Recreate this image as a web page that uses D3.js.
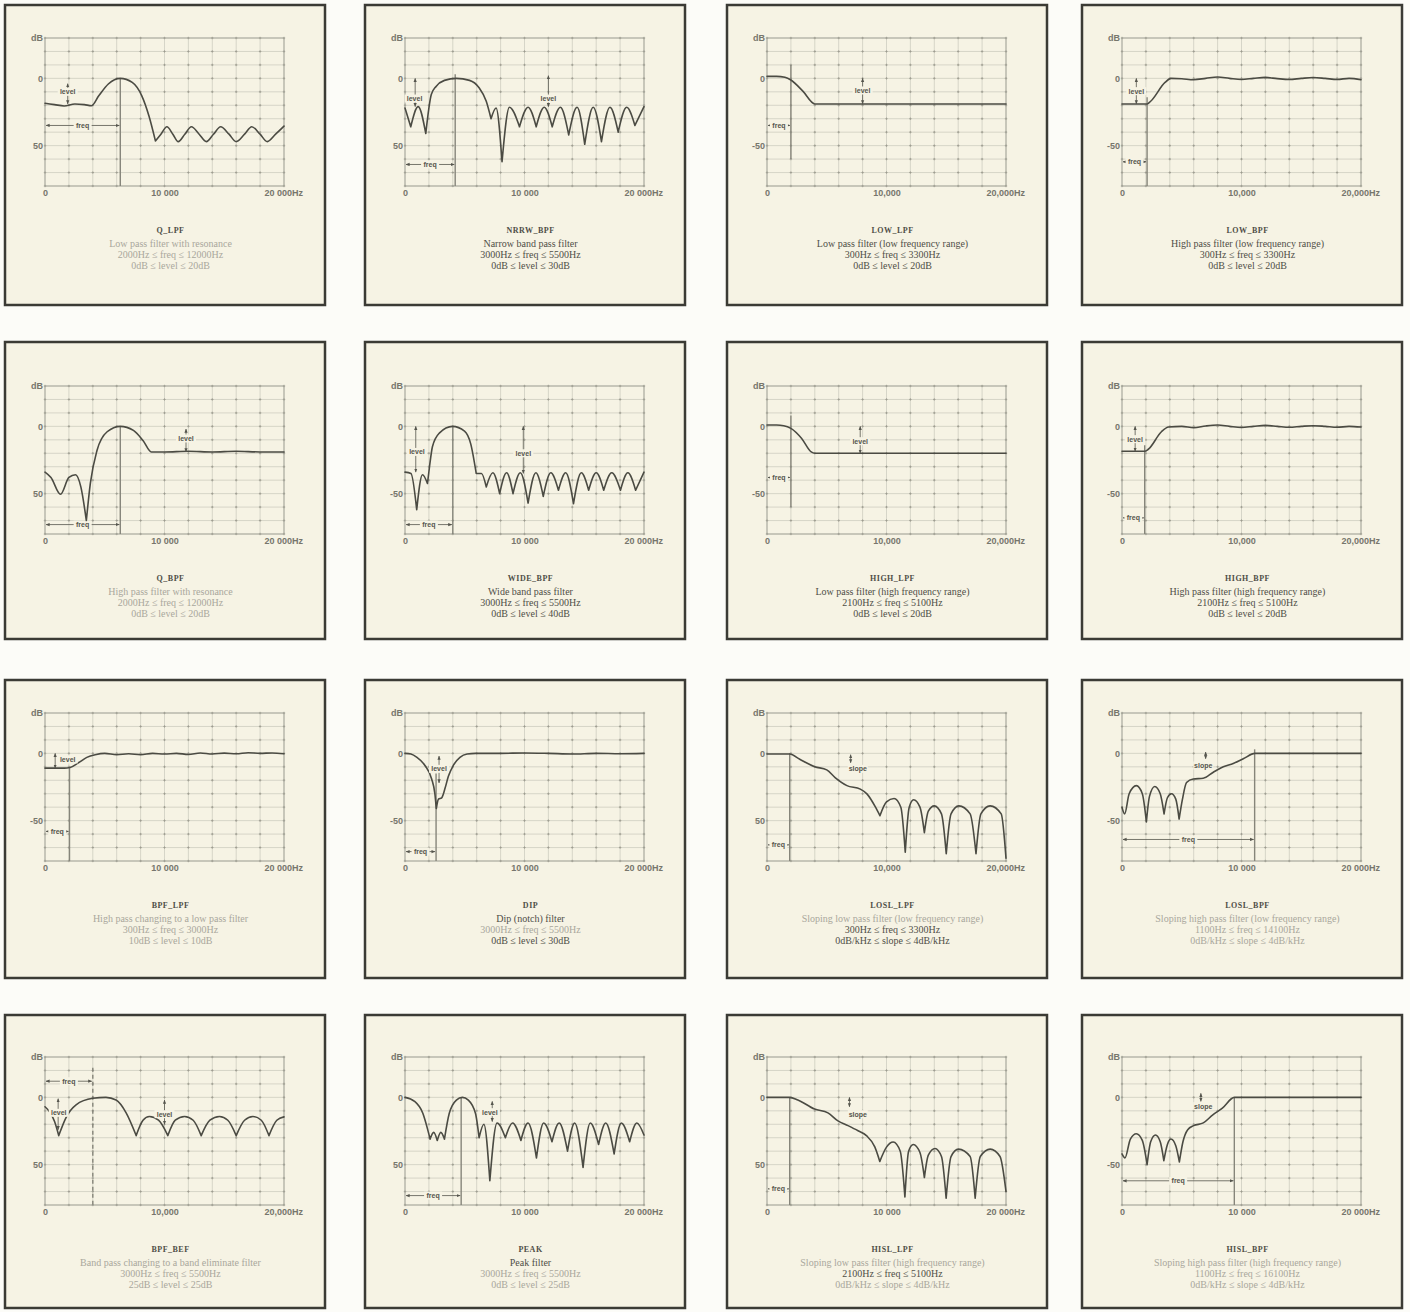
<!DOCTYPE html>
<html>
<head>
<meta charset="utf-8">
<script src="https://cdn.jsdelivr.net/npm/d3@7/dist/d3.min.js"></script>
<style>
  body { margin: 0; background: #fcfcf8; }
  .tick text { font-family: "Liberation Sans", Arial, sans-serif; font-size: 9px; fill: #77766c; font-weight: bold; }
  .title { font-family: "Liberation Serif", serif; font-size: 8px; font-weight: bold; letter-spacing: 0.5px; }
  .desc { font-family: "Liberation Serif", serif; font-size: 10px; }
  .anno { font-family: "Liberation Sans", Arial, sans-serif; font-size: 7px; font-weight: bold; fill: #55554d; }
</style>
</head>
<body>
<div id="chart"></div>
<script>
// ---- data: frequency in kHz, level in dB; a third value 1 marks a cusp ----
const names = ["Q_LPF", "NRRW_BPF", "LOW_LPF", "LOW_BPF",
               "Q_BPF", "WIDE_BPF", "HIGH_LPF", "HIGH_BPF",
               "BPF_LPF", "DIP", "LOSL_LPF", "LOSL_BPF",
               "BPF_BEF", "PEAK", "HISL_LPF", "HISL_BPF"];

const descriptions = [
  "Low pass filter with resonance", "Narrow band pass filter",
  "Low pass filter (low frequency range)", "High pass filter (low frequency range)",
  "High pass filter with resonance", "Wide band pass filter",
  "Low pass filter (high frequency range)", "High pass filter (high frequency range)",
  "High pass changing to a low pass filter", "Dip (notch) filter",
  "Sloping low pass filter (low frequency range)", "Sloping high pass filter (low frequency range)",
  "Band pass changing to a band eliminate filter", "Peak filter",
  "Sloping low pass filter (high frequency range)", "Sloping high pass filter (high frequency range)"
];

const freqRanges = [
  "2000Hz ≤ freq ≤ 12000Hz", "3000Hz ≤ freq ≤ 5500Hz", "300Hz ≤ freq ≤ 3300Hz", "300Hz ≤ freq ≤ 3300Hz",
  "2000Hz ≤ freq ≤ 12000Hz", "3000Hz ≤ freq ≤ 5500Hz", "2100Hz ≤ freq ≤ 5100Hz", "2100Hz ≤ freq ≤ 5100Hz",
  "300Hz ≤ freq ≤ 3000Hz", "3000Hz ≤ freq ≤ 5500Hz", "300Hz ≤ freq ≤ 3300Hz", "1100Hz ≤ freq ≤ 14100Hz",
  "3000Hz ≤ freq ≤ 5500Hz", "3000Hz ≤ freq ≤ 5500Hz", "2100Hz ≤ freq ≤ 5100Hz", "1100Hz ≤ freq ≤ 16100Hz"
];

const paramRanges = [
  "0dB ≤ level ≤ 20dB", "0dB ≤ level ≤ 30dB", "0dB ≤ level ≤ 20dB", "0dB ≤ level ≤ 20dB",
  "0dB ≤ level ≤ 20dB", "0dB ≤ level ≤ 40dB", "0dB ≤ level ≤ 20dB", "0dB ≤ level ≤ 20dB",
  "10dB ≤ level ≤ 10dB", "0dB ≤ level ≤ 30dB", "0dB/kHz ≤ slope ≤ 4dB/kHz", "0dB/kHz ≤ slope ≤ 4dB/kHz",
  "25dB ≤ level ≤ 25dB", "0dB ≤ level ≤ 25dB", "0dB/kHz ≤ slope ≤ 4dB/kHz", "0dB/kHz ≤ slope ≤ 4dB/kHz"
];

// which text lines are faintly printed in the original
const faintLines = [[1,2,3], [], [], [], [1,2,3], [], [], [], [1,2,3], [2], [1], [1,2,3], [1,2,3], [2,3], [1,3], [1,2,3]];

const minusLabels = ["50", "50", "-50", "-50", "50", "-50", "-50", "-50", "-50", "-50", "50", "-50", "50", "50", "50", "-50"];
const commaTicks = [false, false, true, true, false, false, true, true, false, false, true, false, true, false, false, false];

const qLpf = [[0,-18.5],[0.8,-19.5],[1.6,-20.5],[2.5,-19],[3.3,-19.5],[3.9,-20.3],[4.5,-13],[5.3,-4.2],[6.3,0],[7.3,-3],[8.1,-13],[8.7,-28],[9.24,-46.5,1],
  [9.7,-41.5],[10.2,-36],[10.7,-41.5],[11.15,-47],[11.7,-41.5],[12.25,-36],[12.9,-41.5],[13.5,-47],[14.1,-41.5],[14.7,-36],[15.4,-41.5],
  [16.0,-47],[16.7,-41.5],[17.3,-36],[18.0,-41.5],[18.6,-47],[19.3,-41.5],[20,-35.5]];
const nrrwBpf = [[0,-22],[0.48,-36,1],[1.1,-21],[1.74,-41,1],[2.2,-12],[2.6,-6],[3.3,-1.5],[4.3,0],[5.4,-1.5],[6.2,-7],[6.8,-17],[7.2,-30,1],
  [7.62,-22],[8.12,-62,1],[8.74,-21.5],[9.58,-36,1],[10.3,-21.5],[10.98,-36,1],[11.65,-21.5],[12.32,-36,1],[13.0,-21.5],[13.7,-42,1],
  [14.4,-21.5],[15.04,-49,1],[15.75,-21.5],[16.44,-47,1],[17.15,-21.5],[17.84,-40,1],[18.55,-21.5],[19.24,-35,1],[20,-21]];
const lowLpf = [[0,1.5],[0.8,1.5],[1.5,0.8],[2.0,-1.2],[3.0,-9.5],[4.0,-19],[4.3,-19],[20,-19]];
const lowBpf = [[0,-19],[2.1,-19],[2.4,-17],[3.6,-3],[4.1,0],[5,-0.3],[6,-1],[7,0],[8,1],[9,0],[10,-0.8],[11,0],[12,0.7],[13,-0.2],
  [14,-0.8],[15,0],[16,0.6],[17,0],[18,-0.8],[19,0],[20,-1]];
const qBpf = [[0,-34],[0.5,-38],[1.3,-50.5],[2.0,-38],[2.55,-36],[3.0,-45],[3.46,-70,1],[3.8,-42],[4.35,-18],[5.2,-4],[6.3,0],[7.4,-3],
  [8.2,-10.5],[8.9,-19],[10,-19],[12,-18.5],[14,-19],[16,-18.5],[18,-19],[20,-19]];
const wideBpf = [[0,-34],[0.5,-35],[0.98,-62,1],[1.46,-36],[1.88,-42.5,1],[2.05,-30],[2.3,-15],[2.87,-5],[3.98,0],[4.98,-3.5],[5.5,-13],[5.96,-35,1],
  [6.4,-35],[6.8,-45,1],[7.35,-34.5],[7.92,-50,1],[8.5,-34.5],[9.04,-50,1],[9.65,-34.5],[10.3,-57,1],[10.95,-34.5],[11.57,-52,1],
  [12.2,-34.5],[12.84,-47.5,1],[13.45,-34.5],[14.1,-57.5,1],[14.75,-34.5],[15.37,-47.5,1],[16.0,-34.5],[16.63,-47.5,1],
  [17.3,-34.5],[18.03,-47.5,1],[18.65,-34.5],[19.3,-47.5,1],[20,-34]];
const highLpf = [[0,1],[0.8,1],[1.4,0.5],[2.0,-1.5],[2.9,-9],[3.7,-19],[4.0,-20],[20,-20]];
const highBpf = [[0,-18.5],[1.9,-18.5],[2.2,-17],[3.3,-4],[3.9,-0.5],[5,0],[6,-1],[7,0.3],[8,1],[9,0],[10,-0.8],[11,0],[12,0.7],
  [13,0],[14,-0.7],[15,0],[16,0.5],[17,0],[18,-0.7],[19,0],[20,-0.5]];
const bpfLpf = [[0,-11],[1.6,-11],[2.1,-10.5],[2.8,-7],[3.5,-3],[4.2,-1],[5,0],[6,-1],[7,-0.3],[8,-1],[9,0],[10,-0.5],[11,0],
  [12,-0.8],[13,0.3],[14,-0.5],[15,0.2],[16,-0.3],[17,0.5],[18,0],[19,0.3],[20,-0.3]];
const dip = [[0,0],[0.5,-0.5],[1.0,-3],[1.67,-9],[2.23,-19],[2.5,-30],[2.62,-41,1],[2.8,-34],[3.07,-33],[3.35,-26],[3.63,-17],[4.04,-9],
  [4.6,-3],[5.2,-0.5],[5.9,0],[8,0],[10,0.3],[12,0],[14,-0.5],[16,0],[18,-0.3],[20,0]];
const loslLpf = [[0,-0.5],[1.9,-0.5],[2.74,-4.4],[4.0,-9.9],[5.0,-12.3],[5.7,-18],[6.69,-24],[7.81,-26.6],[8.38,-30.3],[9.08,-40],[9.45,-46.3,1],
  [10.0,-36],[10.63,-33.5],[11.2,-40],[11.57,-73.4,1],[11.9,-40],[12.27,-34.5],[12.8,-40],[13.17,-59,1],[13.5,-43],[14.0,-39],[14.6,-45],
  [15.0,-74.6,1],[15.4,-45],[16.05,-39],[17.0,-45],[17.49,-74.6,1],[17.9,-45],[18.67,-39],[19.6,-45],[20,-78]];
const loslBpf = [[0,-40],[0.22,-45],[0.6,-30],[1.2,-24],[1.7,-30],[2.04,-51,1],[2.3,-32],[2.74,-24.6],[3.2,-30],[3.52,-45,1],[3.8,-33],
  [4.14,-30],[4.5,-34],[4.78,-48.8,1],[5.06,-34],[5.4,-21.7],[5.96,-19],[6.8,-18.5],[7.64,-14],[8.48,-10],[9.31,-7.5],[10.15,-4],[11.13,0],[20,0]];
const bpfBef = [[0,-7],[0.4,-11],[0.8,-18],[1.15,-28.4,1],[1.76,-15],[2.6,-5.5],[4.0,-0.7],[5.1,0],[5.95,-2],[6.79,-11.5],[7.63,-28.4,1],
  [8.2,-17],[8.74,-14.2],[9.5,-17],[10.28,-28.4,1],[10.9,-17],[11.68,-14.2],[12.4,-17],[13.07,-28.4,1],[13.8,-17],[14.6,-14.2],
  [15.3,-17],[16.0,-28.4,1],[16.7,-17],[17.4,-14.2],[18.1,-17],[18.74,-28.4,1],[19.4,-17],[20,-14.5]];
const peak = [[0,0],[0.8,-3],[1.5,-12],[1.9,-24],[2.1,-31,1],[2.4,-26],[2.7,-32,1],[3.0,-26],[3.3,-31,1],[3.7,-12],[4.3,-2],[4.8,0],
  [5.3,-2],[5.9,-12],[6.2,-30,1],[6.6,-20],[7.1,-62,1],[7.7,-19],[8.4,-30,1],[9.0,-19],[9.7,-32,1],[10.3,-19],[11.0,-45,1],
  [11.6,-19],[12.3,-33,1],[12.9,-19],[13.6,-40,1],[14.2,-19],[14.9,-52,1],[15.5,-19],[16.2,-35,1],[16.8,-19],[17.5,-42,1],
  [18.1,-19],[18.8,-33,1],[19.4,-19],[20,-28]];
const hislLpf = [[0,0],[1.88,0],[2.58,-1.9],[3.98,-8.7],[5.1,-11.5],[5.94,-17.5],[6.78,-21],[7.62,-24.8],[8.32,-28.4],[9.02,-36.8],[9.44,-47.6,1],
  [10.0,-37],[10.56,-33.2],[11.15,-40],[11.54,-74,1],[11.85,-40],[12.24,-35],[12.8,-41],[13.17,-59.6,1],[13.5,-43],[14.06,-38],[14.6,-44],
  [14.99,-75,1],[15.4,-44],[16.02,-38.5],[17.0,-44],[17.42,-75,1],[17.85,-44],[18.68,-38.5],[19.5,-44],[20,-70]];
const hislBpf = [[0,-42],[0.25,-45],[0.7,-31],[1.2,-27],[1.7,-32],[2.1,-50,1],[2.4,-33],[2.8,-28],[3.2,-33],[3.5,-47,1],[3.8,-35],
  [4.1,-31],[4.5,-36],[4.8,-48,1],[5.1,-33],[5.5,-24],[6.0,-21],[6.8,-19],[7.6,-13],[8.4,-8],[9.4,0],[20,0]];

const curves = [qLpf, nrrwBpf, lowLpf, lowBpf, qBpf, wideBpf, highLpf, highBpf,
                bpfLpf, dip, loslLpf, loslBpf, bpfBef, peak, hislLpf, hislBpf];

// annotations: freq brackets [f0, f1, dB], marker lines [f, dBtop, dBbottom], level arrows [f, dBfrom, dBto, textF, textDb, label]
const freqBrackets = [[0,6.3,-35],[0,4.2,-64],[0,2.0,-35],[0,2.1,-62],[0,6.3,-73],[0,4.0,-73],[0,2.0,-38],[0,1.9,-68],
                      [0,2.05,-58],[0,2.6,-73],[0,1.9,-68],[0,11.1,-64],[0,4.0,12],[0,4.7,-73],[0,1.9,-68],[0,9.4,-62]];
const markers = [[6.3,0,-80],[4.2,3,-80],[2.0,10,-60],[2.1,-14,-80],[6.3,0,-80],[4.0,0,-80],[2.0,8,-60],[1.9,-14,-80],
                 [2.05,-10,-80],[2.6,-15,-80],[1.9,0,-80],[11.1,3,-80],[4.0,22,-80],[4.7,0,-80],[1.9,0,-80],[9.4,0,-80]];
const levelArrows = [
  [[1.9,-4,-19,1.9,-10,"level"]],
  [[0.85,0,-21,0.8,-15,"level"],[12.0,2,-21,12.0,-15,"level"]],
  [[8.0,0,-19,8.0,-9,"level"]],
  [[1.2,0,-19,1.2,-9.5,"level"]],
  [[11.8,-2,-19,11.8,-9,"level"]],
  [[0.9,0,-34,1.0,-19,"level"],[9.9,0,-35,9.9,-20,"level"]],
  [[7.8,0,-20,7.8,-11,"level"]],
  [[1.1,0,-18.5,1.1,-9.5,"level"]],
  [[0.85,0,-11,1.9,-4.5,"level"]],
  [[2.85,-2,-22,2.85,-11.5,"level"]],
  [[7.0,-1,-7,7.6,-11.5,"slope"]],
  [[7.0,1,-4,6.8,-9,"slope"]],
  [[1.1,-1,-24,1.15,-11.5,"level"],[10.0,-2,-20,10.0,-12.5,"level"]],
  [[7.3,-3,-18,7.1,-11,"level"]],
  [[6.9,0,-7,7.6,-12.5,"slope"]],
  [[6.6,3,-3,6.8,-6.5,"slope"]]
];

// ---- layout ----
const width = 1410, height = 1312;
const colLeft = [5, 365, 727, 1082];
const rowTop = [5, 342, 680, 1015];
const rowHeight = [300, 297, 298, 293];
const plotTopOffset = [33, 44, 33, 42];
const panelW = 320, plotLeft = 40, plotW = 239, plotH = 148;

const svg = d3.select("#chart").append("svg")
    .attr("width", width)
    .attr("height", height);

const defs = svg.append("defs");
defs.append("marker")
    .attr("id", "arrow")
    .attr("viewBox", "0 0 10 10")
    .attr("refX", 9).attr("refY", 5)
    .attr("markerWidth", 5).attr("markerHeight", 5)
    .attr("orient", "auto-start-reverse")
    .append("path")
    .attr("d", "M0,1L10,5L0,9Z")
    .attr("fill", "#55554d");

const x = d3.scaleLinear().domain([0, 20]).range([0, plotW]);
const y = d3.scaleLinear().domain([-80, 30]).range([plotH, 0]);

const line = d3.line()
    .x(d => x(d[0]))
    .y(d => y(d[1]))
    .curve(d3.curveMonotoneX);

// cut a curve into pieces at cusp points so the joins stay sharp
function splitAtCusps(pts) {
    const segs = [];
    let cur = [];
    pts.forEach(p => {
        cur.push(p);
        if (p[2]) { segs.push(cur); cur = [p]; }
    });
    if (cur.length > 1) segs.push(cur);
    return segs;
}

names.forEach((name, i) => {
    const col = i % 4, row = Math.floor(i / 4);
    const px = colLeft[col], py = rowTop[row];
    const g = svg.append("g").attr("transform", `translate(${px},${py})`);

    g.append("rect")
        .attr("width", panelW)
        .attr("height", rowHeight[row])
        .attr("fill", "#f6f3e4")
        .attr("stroke", "#3b3b35")
        .attr("stroke-width", 2.5);

    const plot = g.append("g").attr("transform", `translate(${plotLeft},${plotTopOffset[row]})`);

    // graph paper grid
    const xt = d3.range(0, 21, 2), yt = d3.range(-80, 31, 10);
    plot.append("g").selectAll("line.v").data(xt).join("line")
        .attr("x1", d => x(d)).attr("x2", d => x(d))
        .attr("y1", 0).attr("y2", plotH)
        .attr("stroke", "#d3d1c4").attr("stroke-width", 0.9);
    plot.append("g").selectAll("line.h").data(yt).join("line")
        .attr("x1", 0).attr("x2", plotW)
        .attr("y1", d => y(d)).attr("y2", d => y(d))
        .attr("stroke", "#d3d1c4").attr("stroke-width", 0.9);
    const crosses = xt.flatMap(a => yt.map(b => [a, b]));
    plot.append("g").selectAll("path").data(crosses).join("path")
        .attr("d", d => `M${x(d[0]) - 1.2},${y(d[1])}h2.4M${x(d[0])},${y(d[1]) - 1.2}v2.4`)
        .attr("stroke", "#9a998d").attr("stroke-width", 0.8);
    plot.append("rect")
        .attr("width", plotW).attr("height", plotH)
        .attr("fill", "none").attr("stroke", "#a3a297").attr("stroke-width", 0.9);

    // axes
    const yAxis = d3.axisLeft(y)
        .tickValues([30, 0, -50])
        .tickSize(0).tickPadding(2)
        .tickFormat(d => d === 30 ? "dB" : d === 0 ? "0" : minusLabels[i]);
    plot.append("g").call(yAxis).call(a => a.select(".domain").remove());

    const sep = commaTicks[i] ? "," : " ";
    const xAxis = d3.axisBottom(x)
        .tickValues([0, 10, 20])
        .tickSize(0).tickPadding(4)
        .tickFormat(d => d === 0 ? "0" : d === 10 ? `10${sep}000` : `20${sep}000Hz`);
    plot.append("g").attr("transform", `translate(0,${plotH})`).call(xAxis)
        .call(a => a.select(".domain").remove())
        .call(a => a.selectAll(".tick").filter(d => d === 20).select("text")
            .attr("text-anchor", "start").attr("x", -20));

    // marker line and freq bracket
    const m = markers[i];
    plot.append("line")
        .attr("x1", x(m[0])).attr("x2", x(m[0]))
        .attr("y1", y(m[1])).attr("y2", y(m[2]))
        .attr("stroke", "#86857a").attr("stroke-width", 1.4)
        .attr("stroke-dasharray", i === 12 ? "4,3" : null);

    const fb = freqBrackets[i];
    plot.append("line")
        .attr("x1", x(fb[0]) + 1).attr("x2", x(fb[1]) - 1)
        .attr("y1", y(fb[2])).attr("y2", y(fb[2]))
        .attr("stroke", "#55554d").attr("stroke-width", 0.8)
        .attr("marker-start", "url(#arrow)").attr("marker-end", "url(#arrow)");
    const fmid = (fb[0] + fb[1]) / 2;
    plot.append("rect")
        .attr("x", x(fmid) - 9).attr("y", y(fb[2]) - 4)
        .attr("width", 18).attr("height", 8)
        .attr("fill", "#f6f3e4");
    plot.append("text").attr("class", "anno")
        .attr("x", x(fmid)).attr("y", y(fb[2]))
        .attr("text-anchor", "middle").attr("dominant-baseline", "central")
        .text("freq");

    // response curve
    plot.append("path")
        .attr("d", splitAtCusps(curves[i]).map(s => line(s)).join(""))
        .attr("fill", "none")
        .attr("stroke", "#4b4b43")
        .attr("stroke-width", 1.6)
        .attr("stroke-linejoin", "round")
        .attr("stroke-linecap", "round");

    // level / slope arrows
    levelArrows[i].forEach(a => {
        plot.append("line")
            .attr("x1", x(a[0])).attr("x2", x(a[0]))
            .attr("y1", y(a[1])).attr("y2", y(a[2]))
            .attr("stroke", "#55554d").attr("stroke-width", 0.8)
            .attr("marker-start", "url(#arrow)").attr("marker-end", "url(#arrow)");
        plot.append("rect")
            .attr("x", x(a[3]) - 10).attr("y", y(a[4]) - 4)
            .attr("width", 20).attr("height", 8)
            .attr("fill", "#f6f3e4");
        plot.append("text").attr("class", "anno")
            .attr("x", x(a[3])).attr("y", y(a[4]))
            .attr("text-anchor", "middle").attr("dominant-baseline", "central")
            .text(a[5]);
    });

    // caption
    const lines = [name, descriptions[i], freqRanges[i], paramRanges[i]];
    const baseY = plotTopOffset[row] + plotH + 44;
    const cx = plotLeft + plotW / 2 + 6;
    g.selectAll("text.cap").data(lines).join("text")
        .attr("class", (d, k) => k === 0 ? "cap title" : "cap desc")
        .attr("x", cx)
        .attr("y", (d, k) => baseY + (k === 0 ? 0 : 2 + k * 11))
        .attr("text-anchor", "middle")
        .attr("dominant-baseline", "central")
        .attr("fill", (d, k) => faintLines[i].includes(k) ? "#a9a79c" : "#4f4e47")
        .text(d => d);
});
</script>
</body>
</html>
